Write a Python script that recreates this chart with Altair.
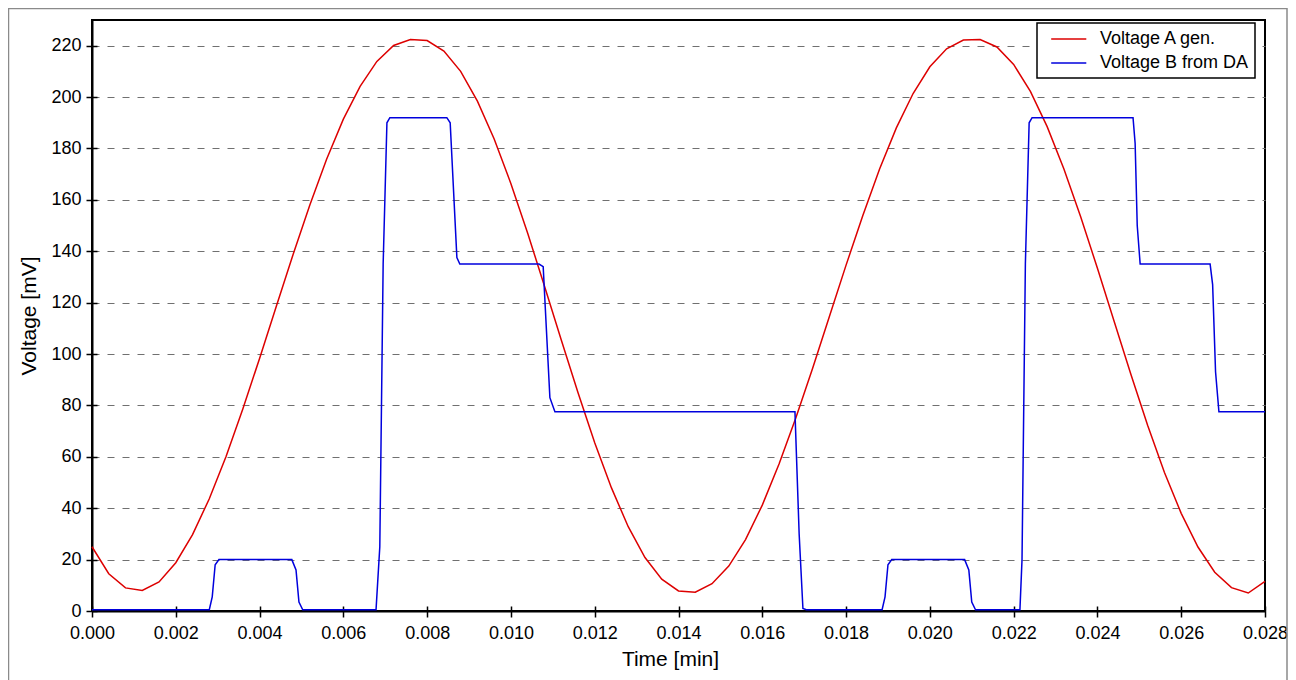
import altair as alt
import pandas as pd

# ---- data ----
red_time = [0.0000, 0.0004, 0.0008, 0.0012, 0.0016, 0.0020, 0.0024, 0.0028, 0.0032, 0.0036,
            0.0040, 0.0044, 0.0048, 0.0052, 0.0056, 0.0060, 0.0064, 0.0068, 0.0072, 0.0076,
            0.0080, 0.0084, 0.0088, 0.0092, 0.0096, 0.0100, 0.0104, 0.0108, 0.0112, 0.0116,
            0.0120, 0.0124, 0.0128, 0.0132, 0.0136, 0.0140, 0.0144, 0.0148, 0.0152, 0.0156,
            0.0160, 0.0164, 0.0168, 0.0172, 0.0176, 0.0180, 0.0184, 0.0188, 0.0192, 0.0196,
            0.0200, 0.0204, 0.0208, 0.0212, 0.0216, 0.0220, 0.0224, 0.0228, 0.0232, 0.0236,
            0.0240, 0.0244, 0.0248, 0.0252, 0.0256, 0.0260, 0.0264, 0.0268, 0.0272, 0.0276,
            0.0280]
red_values = [25.0, 14.5, 9.0, 8.0, 11.3, 18.8, 29.7, 43.7, 60.1, 78.6,
              98.3, 118.6, 138.7, 158.0, 175.8, 191.4, 204.2, 213.9, 220.1, 222.4,
              222.0, 217.9, 210.0, 198.4, 183.7, 166.3, 147.0, 126.5, 105.6, 85.0,
              65.5, 47.9, 32.8, 20.8, 12.4, 7.8, 7.3, 10.6, 17.5, 27.8,
              41.2, 57.2, 75.1, 94.4, 114.5, 134.6, 153.9, 172.0, 188.0, 201.4,
              211.8, 218.8, 222.2, 222.4, 219.5, 212.7, 202.2, 188.5, 172.0, 153.4,
              133.4, 112.7, 92.0, 72.2, 53.9, 38.0, 24.9, 15.1, 9.1, 7.0,
              11.5]

blue_time = [0.0, 0.0028, 0.00287, 0.00294, 0.00303,
             0.00477, 0.00487, 0.00494, 0.00503,
             0.00678, 0.00687, 0.00695, 0.00704, 0.00711,
             0.00847, 0.00855, 0.00871, 0.00878,
             0.01067, 0.01077, 0.01093, 0.01105,
             0.01678, 0.01688, 0.01697, 0.01705,
             0.01886, 0.01893, 0.01900, 0.01909,
             0.02083, 0.02093, 0.02100, 0.02109,
             0.02215, 0.02220, 0.02228, 0.02237, 0.02244,
             0.02485, 0.02490, 0.02495, 0.02502,
             0.02669, 0.02675, 0.02682, 0.02690,
             0.0280]
blue_values = [0.5, 0.5, 5.5, 18, 20,
               20, 16, 3.5, 0.5,
               0.5, 25, 135, 190, 192,
               192, 190, 137.5, 135,
               135, 134, 83, 77.5,
               77.5, 30, 1, 0.5,
               0.5, 5.5, 18, 20,
               20, 16, 3.5, 0.5,
               0.5, 20, 135, 190, 192,
               192, 182, 150, 135,
               135, 127, 93, 77.5,
               77.5]

series_names = ["Voltage A gen.", "Voltage B from DA"]
series_colors = ["#dd0000", "#0000dd"]
x_ticks = [0.000, 0.002, 0.004, 0.006, 0.008, 0.010, 0.012, 0.014,
           0.016, 0.018, 0.020, 0.022, 0.024, 0.026, 0.028]
y_ticks = [0, 20, 40, 60, 80, 100, 120, 140, 160, 180, 200, 220]

W, H = 1173, 591
FONT = "Liberation Sans"

red_df = pd.DataFrame({"t": red_time, "v": red_values, "s": series_names[0]})
blue_df = pd.DataFrame({"t": blue_time, "v": blue_values, "s": series_names[1]})

xscale = alt.Scale(domain=[0, 0.028], nice=False, zero=False)
yscale = alt.Scale(domain=[0, 230], nice=False)

color = alt.Color(
    "s:N",
    scale=alt.Scale(domain=series_names, range=series_colors),
    legend=alt.Legend(
        title=None, orient="none", legendX=945, legendY=3,
        symbolType="M-0.2,0H3.7", symbolSize=324, symbolStrokeWidth=1.5,
        labelFontSize=18, labelFont=FONT, labelColor="black",
        labelOffset=37, rowPadding=5, padding=6,
        strokeColor="black", fillColor="white",
    ),
)

main_x_axis = alt.Axis(values=x_ticks, format=".3f", title="Time [min]", grid=False,
                       tickSize=6, labelPadding=7, titlePadding=6, titleX=578,
                       labelFlush=False, labelOverlap=False)
main_y_axis = alt.Axis(values=y_ticks, title="Voltage [mV]", grid=True,
                       gridDash=[7, 8], gridColor="#707070", gridWidth=1,
                       tickSize=6, labelPadding=5, titlePadding=11,
                       labelFlush=False, labelOverlap=False)

inner_x_axis = alt.Axis(values=x_ticks, labels=False, domain=False, grid=False,
                        tickSize=5, offset=-H, title=None)
inner_y_axis = alt.Axis(values=y_ticks, labels=False, domain=False, grid=False,
                        tickSize=5, offset=-W, title=None)

frame = alt.Chart(pd.DataFrame({"a": [0]})).mark_rect(
    fill="white", fillOpacity=0, stroke="#8a8a8a", strokeWidth=1.5
).encode(
    x=alt.value(-83.5), x2=alt.value(1195), y=alt.value(-11.5), y2=alt.value(700)
)

red = alt.Chart(red_df).mark_line(strokeWidth=1.5).encode(
    x=alt.X("t:Q", scale=xscale, axis=main_x_axis),
    y=alt.Y("v:Q", scale=yscale, axis=main_y_axis),
    color=color,
)

blue = alt.Chart(blue_df).mark_line(strokeWidth=1.5).encode(
    x=alt.X("t:Q", scale=xscale, axis=inner_x_axis),
    y=alt.Y("v:Q", scale=yscale, axis=inner_y_axis),
    color=color,
)

chart = alt.layer(frame, red, blue).resolve_axis(
    x="independent", y="independent"
).properties(
    width=W, height=H,
    autosize=alt.AutoSizeParams(type="none"),
    padding={"left": 84, "top": 12, "right": 23, "bottom": 69},
    background="white",
).configure_axis(
    labelFont=FONT, titleFont=FONT, labelFontSize=18, titleFontSize=21,
    labelColor="black", titleColor="black", titleFontWeight="normal",
    domainColor="black", domainWidth=2, tickColor="black", tickWidth=1.5,
).configure_view(
    stroke="black", strokeWidth=2
).configure_legend(
    strokeWidth=1.5
)

chart.save("out.html", embed_options={"renderer": "svg", "actions": False})
